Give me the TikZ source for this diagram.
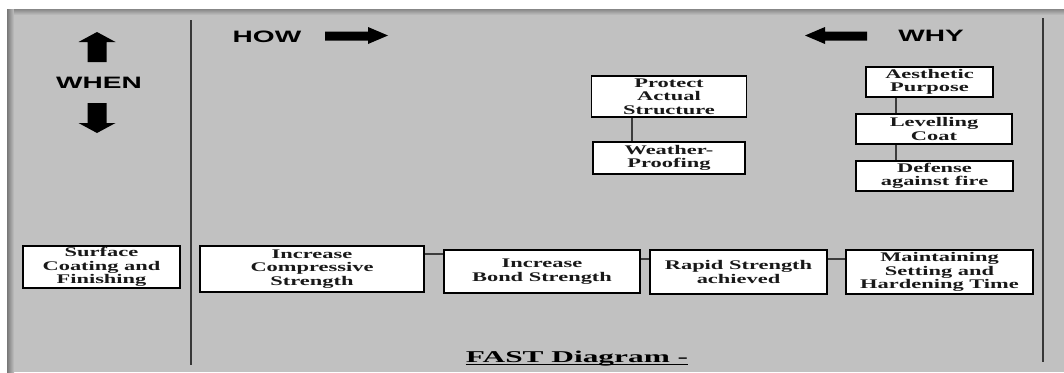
\documentclass[tikz,border=0pt]{standalone}
\usepackage{fontspec}
\newfontfamily\bxfont[FakeStretch=1.7]{Liberation Serif}
\newfontfamily\hdrfont[FakeStretch=1.7]{Liberation Sans}
\newfontfamily\fastfont[FakeStretch=1.9]{Liberation Serif}
\definecolor{bg}{RGB}{193,193,193}
\definecolor{shadow}{RGB}{120,120,120}
\definecolor{vline}{RGB}{55,55,55}
\definecolor{connc}{RGB}{60,60,60}
\tikzset{
  box/.style={draw=black, line width=1.8pt, fill=white, inner sep=0pt, align=center,
    font=\bxfont\bfseries\fontsize{13.2}{13.5}\selectfont, text=black!90},
  hdr/.style={inner sep=0pt, anchor=base, font=\hdrfont\bfseries\fontsize{16.5}{18}\selectfont},
  fasttxt/.style={inner sep=0pt, anchor=base, font=\fastfont\bfseries\fontsize{16.5}{18}\selectfont},
  conn/.style={draw=connc, line width=1.2pt},
  divider/.style={draw=vline, line width=2.6pt},
  blockarrow/.style={fill=black}
}
\begin{document}
\begin{tikzpicture}[x=1pt,y=-1pt]
\useasboundingbox (0,0) rectangle (1064,372);
\fill[white] (0,0) rectangle (1064,372);
\fill[bg] (7,9) rectangle (1064,372);
\shade[left color=shadow, right color=bg] (7,9) rectangle (14,372);
\shade[top color=shadow!80!bg, bottom color=bg] (14,9) rectangle (1064,15);

% dividers
\draw[divider] (191,20) -- (191,365);
\draw[divider] (1043,18) -- (1043,362);

% WHEN arrows
\fill[blockarrow] (97,32) -- (115.5,42) -- (106.5,42) -- (106.5,62) -- (87.5,62) -- (87.5,42) -- (78.5,42) -- cycle;
\fill[blockarrow] (97,133) -- (115.5,123) -- (106.5,123) -- (106.5,103) -- (87.5,103) -- (87.5,123) -- (78.5,123) -- cycle;
\node[hdr] (when) at (99,88.5) {WHEN};

% HOW / WHY
\node[hdr] (how) at (267,42) {HOW};
\fill[blockarrow] (325,31.5) -- (368,31.5) -- (368,27) -- (388,35.5) -- (368,44) -- (368,40.5) -- (325,40.5) -- cycle;
\node[hdr] (why) at (931,41) {WHY};
\fill[blockarrow] (867,31.5) -- (825,31.5) -- (825,27) -- (805,35.5) -- (825,44) -- (825,40.5) -- (867,40.5) -- cycle;

% boxes
\node[box, minimum width=157pt, minimum height=42pt] (surf) at (101.5,267) {Surface\\Coating and\\Finishing};
\node[box, minimum width=224pt, minimum height=46pt] (ic) at (312,269) {Increase\\Compressive\\Strength};
\node[box, minimum width=196pt, minimum height=43pt] (ib) at (542,271.5) {Increase\\Bond Strength};
\node[box, minimum width=177pt, minimum height=44pt] (rapid) at (738.5,272) {Rapid Strength\\achieved};
\node[box, minimum width=187pt, minimum height=44pt] (maint) at (939.5,272) {Maintaining\\Setting and\\Hardening Time};
\node[box, minimum width=155pt, minimum height=41pt] (protect) at (669,96.5) {Protect\\Actual\\Structure};
\node[box, minimum width=152pt, minimum height=32pt] (weather) at (669,158) {Weather-\\Proofing};
\node[box, minimum width=127pt, minimum height=30pt] (aesth) at (929.5,82) {Aesthetic\\Purpose};
\node[box, minimum width=156pt, minimum height=30pt] (level) at (934,129) {Levelling\\Coat};
\node[box, minimum width=157pt, minimum height=30pt] (defense) at (934.5,176) {Defense\\against fire};

% connectors
\coordinate (pwx) at (632,0);
\coordinate (alx) at (896,0);
\coordinate (hy1) at (0,254);
\coordinate (hy2) at (0,259);
\draw[conn] (protect.south -| pwx) -- (weather.north -| pwx);
\draw[conn] (aesth.south -| alx) -- (level.north -| alx);
\draw[conn] (level.south -| alx) -- (defense.north -| alx);
\draw[conn] (ic.east |- hy1) -- (ib.west |- hy1);
\draw[conn] (ib.east |- hy2) -- (rapid.west |- hy2);
\draw[conn] (rapid.east |- hy2) -- (maint.west |- hy2);

% title
\node[fasttxt] (fast) at (577,362) {FAST Diagram -};
\draw[black, line width=1.6pt] ([yshift=-2.5pt]fast.base west) -- ([yshift=-2.5pt]fast.base east);
\end{tikzpicture}
\end{document}
